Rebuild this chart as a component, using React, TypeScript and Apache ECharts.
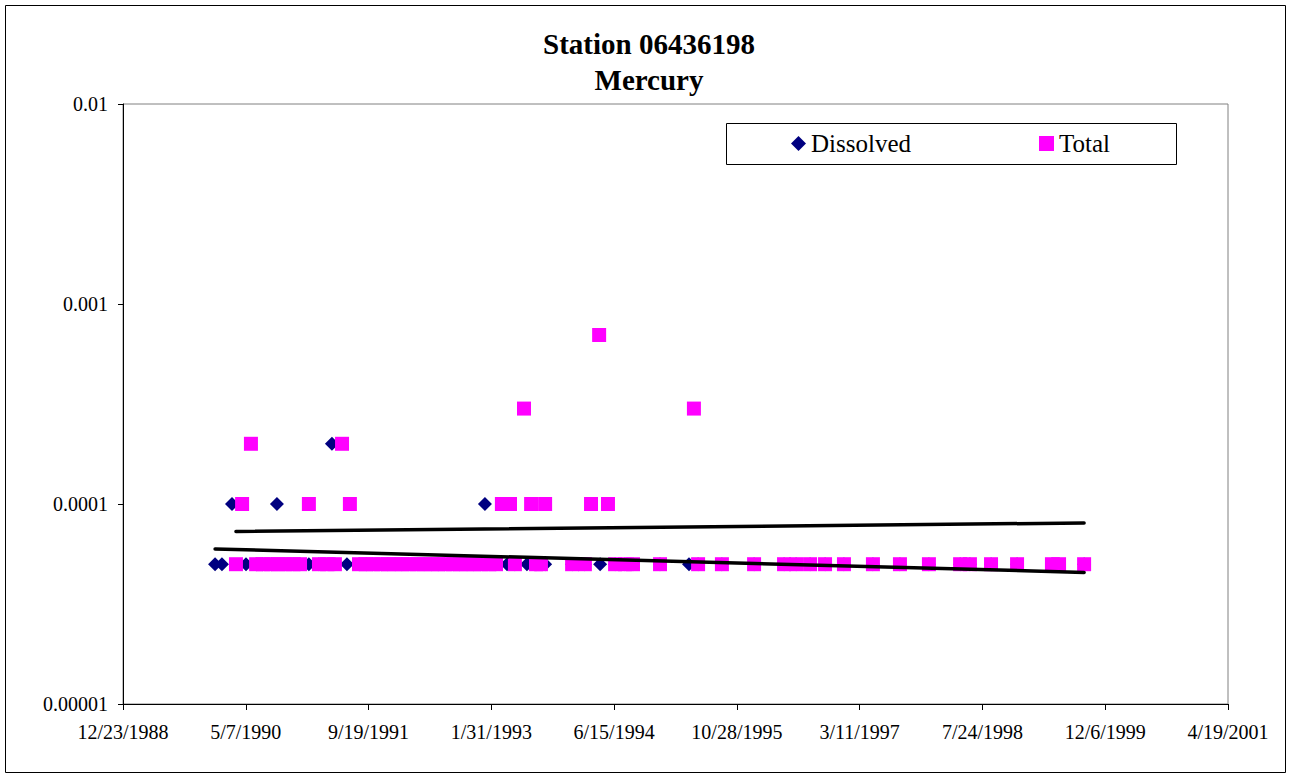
import React, { useEffect, useRef } from 'react';
import * as echarts from 'echarts';

// x axis in Excel day serials (12/23/1988 = 32500)
const xMin = 32500;
const xMax = 37000;
const xStep = 500;
const yMin = 0.00001;
const yMax = 0.01;

const titleLines = ['Station 06436198', 'Mercury'];

// [date, mg/L]
const dissolved: [string, number][] = [
  ['1990-01-02', 0.00005], ['1990-01-30', 0.00005], ['1990-03-12', 0.0001], ['1990-05-08', 0.00005],
  ['1990-06-18', 0.00005], ['1990-07-16', 0.00005], ['1990-08-18', 0.00005], ['1990-09-11', 0.0001],
  ['1990-10-14', 0.00005], ['1990-11-15', 0.00005], ['1990-12-14', 0.00005], ['1991-01-19', 0.00005],
  ['1991-03-01', 0.00005], ['1991-04-03', 0.00005], ['1991-04-23', 0.0002], ['1991-05-05', 0.00005],
  ['1991-06-23', 0.00005], ['1991-08-11', 0.00005], ['1991-09-09', 0.00005], ['1991-10-07', 0.00005],
  ['1991-11-09', 0.00005], ['1991-12-07', 0.00005], ['1992-01-05', 0.00005], ['1992-02-02', 0.00005],
  ['1992-03-02', 0.00005], ['1992-04-03', 0.00005], ['1992-05-02', 0.00005], ['1992-05-31', 0.00005],
  ['1992-06-28', 0.00005], ['1992-07-26', 0.00005], ['1992-08-28', 0.00005], ['1992-09-25', 0.00005],
  ['1992-10-24', 0.00005], ['1992-11-21', 0.00005], ['1992-12-20', 0.00005], ['1993-01-05', 0.0001],
  ['1993-01-21', 0.00005], ['1993-02-19', 0.00005], ['1993-04-05', 0.00005], ['1993-05-07', 0.00005],
  ['1993-06-25', 0.00005], ['1993-08-01', 0.00005], ['1993-09-07', 0.00005], ['1993-12-26', 0.00005],
  ['1994-02-16', 0.00005], ['1994-04-19', 0.00005], ['1994-06-19', 0.00005], ['1994-07-29', 0.00005],
  ['1994-08-31', 0.00005], ['1994-12-19', 0.00005], ['1995-04-16', 0.00005], ['1995-05-23', 0.00005],
  ['1995-08-28', 0.00005], ['1996-01-06', 0.00005], ['1996-05-07', 0.00005], ['1996-06-25', 0.00005],
  ['1996-08-21', 0.00005], ['1996-10-21', 0.00005], ['1997-01-06', 0.00005], ['1997-05-04', 0.00005],
  ['1997-08-22', 0.00005], ['1997-12-18', 0.00005], ['1998-04-24', 0.00005], ['1998-06-03', 0.00005],
  ['1998-08-28', 0.00005], ['1998-12-12', 0.00005], ['1999-05-03', 0.00005], ['1999-06-01', 0.00005],
  ['1999-09-11', 0.00005],
];

const total: [string, number][] = [
  ['1990-03-28', 0.00005], ['1990-04-22', 0.0001], ['1990-05-28', 0.0002], ['1990-06-18', 0.00005],
  ['1990-07-16', 0.00005], ['1990-08-18', 0.00005], ['1990-09-15', 0.00005], ['1990-10-14', 0.00005],
  ['1990-11-15', 0.00005], ['1990-12-14', 0.00005], ['1991-01-19', 0.0001], ['1991-03-01', 0.00005],
  ['1991-04-03', 0.00005], ['1991-05-05', 0.00005], ['1991-06-03', 0.0002], ['1991-07-05', 0.0001],
  ['1991-08-11', 0.00005], ['1991-09-09', 0.00005], ['1991-10-07', 0.00005], ['1991-11-09', 0.00005],
  ['1991-12-07', 0.00005], ['1992-01-05', 0.00005], ['1992-02-02', 0.00005], ['1992-03-02', 0.00005],
  ['1992-04-03', 0.00005], ['1992-05-02', 0.00005], ['1992-05-31', 0.00005], ['1992-06-28', 0.00005],
  ['1992-07-26', 0.00005], ['1992-08-28', 0.00005], ['1992-09-25', 0.00005], ['1992-10-24', 0.00005],
  ['1992-11-21', 0.00005], ['1992-12-20', 0.00005], ['1993-01-21', 0.00005], ['1993-02-19', 0.00005],
  ['1993-03-15', 0.0001], ['1993-04-17', 0.0001], ['1993-05-07', 0.00005], ['1993-06-13', 0.0003],
  ['1993-07-12', 0.0001], ['1993-08-01', 0.00005], ['1993-08-21', 0.00005], ['1993-09-07', 0.0001],
  ['1993-12-26', 0.00005], ['1994-02-16', 0.00005], ['1994-03-13', 0.0001], ['1994-04-15', 0.0007],
  ['1994-05-21', 0.0001], ['1994-06-19', 0.00005], ['1994-07-29', 0.00005], ['1994-08-31', 0.00005],
  ['1994-12-19', 0.00005], ['1995-05-06', 0.0003], ['1995-05-23', 0.00005], ['1995-08-28', 0.00005],
  ['1996-01-06', 0.00005], ['1996-05-07', 0.00005], ['1996-06-25', 0.00005], ['1996-08-21', 0.00005],
  ['1996-10-21', 0.00005], ['1997-01-06', 0.00005], ['1997-05-04', 0.00005], ['1997-08-22', 0.00005],
  ['1997-12-18', 0.00005], ['1998-04-24', 0.00005], ['1998-06-03', 0.00005], ['1998-08-28', 0.00005],
  ['1998-12-12', 0.00005], ['1999-05-03', 0.00005], ['1999-06-01', 0.00005], ['1999-09-11', 0.00005],
];

// exponential trend lines (straight on the log axis), end points
const dissolvedTrend: [string, number][] = [['1990-01-02', 0.0000596], ['1999-09-11', 0.0000455]];
const totalTrend: [string, number][] = [['1990-03-28', 0.0000729], ['1999-09-11', 0.0000804]];

const EXCEL_EPOCH = Date.UTC(1899, 11, 30);
const DAY = 86400000;
const toSerial = (s: string) => {
  const [y, m, d] = s.split('-').map(Number);
  return Math.round((Date.UTC(y, m - 1, d) - EXCEL_EPOCH) / DAY);
};
const fmtDate = (v: number) => {
  const dt = new Date(EXCEL_EPOCH + Math.round(v) * DAY);
  return `${dt.getUTCMonth() + 1}/${dt.getUTCDate()}/${dt.getUTCFullYear()}`;
};
const fmtLog = (v: number) => {
  const e = Math.round(Math.log10(v));
  return v.toFixed(Math.max(0, -e));
};
const pts = (arr: [string, number][]) => arr.map(([d, v]) => [toSerial(d), v]);

const serif = 'Liberation Serif';

export default function App() {
  const ref = useRef<HTMLDivElement>(null);
  useEffect(() => {
    if (!ref.current) return;
    const chart = echarts.init(ref.current, null, { renderer: 'svg' });
    chart.setOption({
      animation: false,
      backgroundColor: '#ffffff',
      textStyle: { fontFamily: serif },
      title: {
        text: titleLines.join('\n'),
        left: 649,
        top: 26,
        padding: 0,
        textAlign: 'center',
        textStyle: { fontFamily: serif, fontWeight: 'bold', fontSize: 29, lineHeight: 36, color: '#000' },
      },
      legend: {
        data: [
          { name: 'Dissolved', icon: 'diamond' },
          { name: 'Total', icon: 'rect' },
        ],
        left: 791,
        top: 131,
        padding: 0,
        itemWidth: 15,
        itemHeight: 15,
        itemGap: 128,
        selectedMode: false,
        textStyle: { fontFamily: serif, fontSize: 25, color: '#000' },
      },
      graphic: [
        {
          type: 'rect',
          silent: true,
          z: -10,
          shape: { x: 5.5, y: 5.5, width: 1280, height: 767 },
          style: { fill: 'transparent', stroke: '#000', lineWidth: 1 },
        },
        {
          type: 'rect',
          silent: true,
          shape: { x: 726.5, y: 123.5, width: 450, height: 41 },
          style: { fill: 'transparent', stroke: '#000', lineWidth: 1 },
        },
      ],
      grid: {
        left: 123,
        right: 63,
        top: 104,
        bottom: 74,
        show: true,
        borderColor: '#808080',
        borderWidth: 1,
        backgroundColor: 'transparent',
      },
      xAxis: {
        type: 'value',
        min: xMin,
        max: xMax,
        interval: xStep,
        axisLine: { show: true, lineStyle: { color: '#000', width: 1 } },
        axisTick: { show: true, length: 6, lineStyle: { color: '#000' } },
        splitLine: { show: false },
        axisLabel: { formatter: fmtDate, fontFamily: serif, fontSize: 20, color: '#000', margin: 18, showMinLabel: true, showMaxLabel: true },
      },
      yAxis: {
        type: 'log',
        logBase: 10,
        min: yMin,
        max: yMax,
        axisLine: { show: true, lineStyle: { color: '#000', width: 1 } },
        axisTick: { show: true, length: 5, lineStyle: { color: '#000' } },
        minorTick: { show: false },
        splitLine: { show: false },
        axisLabel: { formatter: fmtLog, fontFamily: serif, fontSize: 20, color: '#000', margin: 15 },
      },
      series: [
        {
          name: 'Dissolved',
          type: 'scatter',
          symbol: 'diamond',
          symbolSize: 14,
          itemStyle: { color: '#000080', opacity: 1 },
          data: pts(dissolved),
          z: 2,
        },
        {
          name: 'Total',
          type: 'scatter',
          symbol: 'rect',
          symbolSize: 14,
          itemStyle: { color: '#FF00FF', opacity: 1 },
          data: pts(total),
          z: 3,
        },
        {
          name: 'Dissolved trend',
          type: 'line',
          showSymbol: false,
          symbol: 'none',
          silent: true,
          lineStyle: { color: '#000', width: 3.5, cap: 'round' },
          data: pts(dissolvedTrend),
          z: 4,
        },
        {
          name: 'Total trend',
          type: 'line',
          showSymbol: false,
          symbol: 'none',
          silent: true,
          lineStyle: { color: '#000', width: 3.5, cap: 'round' },
          data: pts(totalTrend),
          z: 4,
        },
      ],
    });
    return () => chart.dispose();
  }, []);
  return (
    <div
      ref={ref}
      style={{ position: 'fixed', left: 0, top: 0, width: 1291, height: 778, background: '#fff' }}
    />
  );
}
